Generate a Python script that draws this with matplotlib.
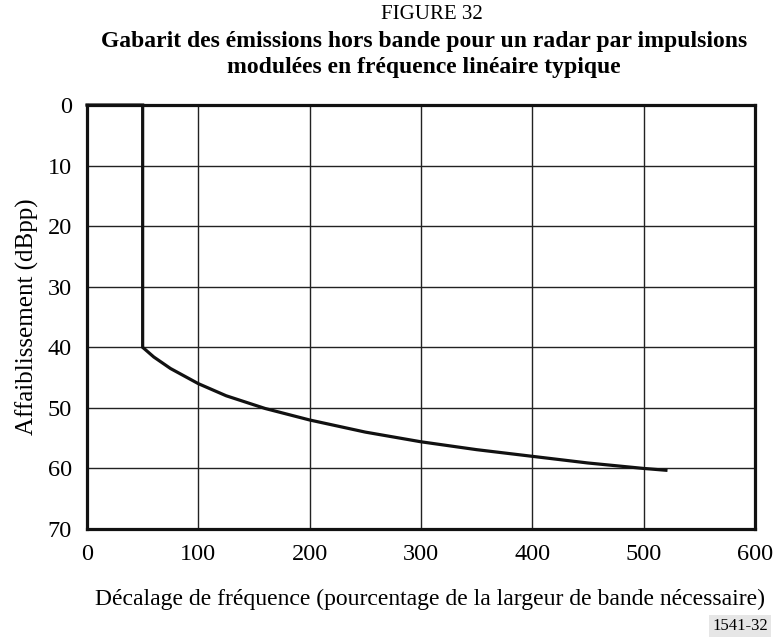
import matplotlib
matplotlib.use("Agg")
from matplotlib import pyplot as plt

# mask points
offset_pct = [0, 50, 50, 60, 75, 100, 125, 160, 200, 250, 300, 350, 400, 450, 500, 520]
attenuation_dbpp = [0, 0, 40, 41.6, 43.5, 46.0, 48.0, 50.1, 52.0, 54.0, 55.6, 56.9, 58.0, 59.1, 60.0, 60.3]

x_ticks = [0, 100, 200, 300, 400, 500, 600]
y_ticks = [0, 10, 20, 30, 40, 50, 60, 70]

plt.rcParams['font.family'] = ['Liberation Serif', 'DejaVu Serif']

fig = plt.figure(figsize=(7.83, 6.42), dpi=100)
ax = fig.add_axes([0.1111, 0.176, 0.8531, 0.6604])

ax.plot(offset_pct, attenuation_dbpp, color='#111111', linewidth=2.3,
        solid_joinstyle='miter', zorder=3, clip_on=False)

ax.set_xlim(0, 600)
ax.set_ylim(70, 0)
ax.set_xticks(x_ticks)
ax.set_yticks(y_ticks)
ax.grid(True, color='#222222', linewidth=1.0)
ax.tick_params(length=0, labelsize=17.5)
ax.tick_params(axis='x', pad=11)
ax.tick_params(axis='y', pad=11)
for s in ax.spines.values():
    s.set_linewidth(2.3)
    s.set_color('#111111')

ax.set_xlabel("Décalage de fréquence (pourcentage de la largeur de bande nécessaire)",
              fontsize=17)
ax.xaxis.set_label_coords(0.513, -0.14)
ax.set_ylabel("Affaiblissement (dBpp)", fontsize=18, labelpad=6)

fig.text(0.552, 0.978, "FIGURE 32", ha='center', va='center', fontsize=15)
fig.text(0.542, 0.935, "Gabarit des émissions hors bande pour un radar par impulsions",
         ha='center', va='center', fontsize=17, fontweight='bold')
fig.text(0.541, 0.895, "modulées en fréquence linéaire typique",
         ha='center', va='center', fontsize=17, fontweight='bold')

fig.text(0.945, 0.025, "1541-32", ha='center', va='center', fontsize=12,
         bbox=dict(facecolor='#e6e6e6', edgecolor='none', pad=2))

fig.savefig("out.png", dpi=100)
